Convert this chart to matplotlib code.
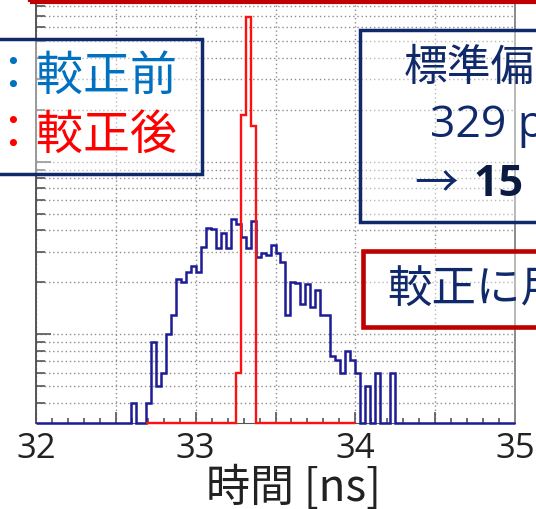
import numpy as np
import matplotlib
matplotlib.use("Agg")
import matplotlib.pyplot as plt
from matplotlib.patches import Rectangle
from matplotlib.ticker import MultipleLocator, LogLocator, FuncFormatter

plt.rcParams['font.family'] = ['Noto Sans CJK JP', 'DejaVu Sans']

W, H = 536, 509

# 96 bins of 1/32 ns between 32 and 35 ns
bin_edges = 32 + np.arange(97) / 32

# before calibration: first filled bin and the bin contents
blue_first_bin = 19
blue_counts = [4, 0, 0, 4, 9, 5, 6, 10, 13, 21,
               20, 23, 25, 23, 32, 41.5, 40.8, 31.5, 38.5, 31.8,
               46.6, 43.4, 36.8, 31.8, 45.3, 28.2, 29.7, 28.8, 32.9, 29.5,
               26.3, 12.9, 20.2, 19.8, 15.0, 19.5, 14.3, 18.0, 13.0, 12.9,
               7.5, 7.1, 6.0, 8.0, 7.1, 6.0, 0, 5.0, 0, 6.0,
               0, 0, 6.0]

# after calibration
red_first_bin = 22
red_counts = [0] * 18 + [6.0, 186, 687, 160] + [0] * 20

x_label = "時間 [ns]"
legend_lines = ["：較正前", "：較正後"]
sigma_lines = ["標準偏差", "329 ps"]
sigma_after = "15 ps"
note_text = "較正に用いた"

ymin, ymax = 3.05, 912

navy = '#10296a'
dark_red = '#c00000'
latin = ['Open Sans', 'DejaVu Sans']


def fx(x):
    return x / W


def fy(y):
    return 1 - y / H


fig = plt.figure(figsize=(W / 100, H / 100), dpi=100)
ax = fig.add_axes([fx(36), 85.7 / H, 479 / W, 427.3 / H])

ax.set_yscale('log')
ax.set_xlim(32, 35)
ax.set_ylim(ymin, ymax)

blue_full = np.zeros(96)
blue_full[blue_first_bin:blue_first_bin + len(blue_counts)] = blue_counts
blue_plot = np.where(blue_full > 0, blue_full, ymin)
ax.stairs(blue_plot, bin_edges, baseline=ymin, color='#1c1c96', lw=1.8,
          clip_on=False, zorder=3)

red_arr = np.array(red_counts, dtype=float)
red_plot = np.where(red_arr > 0, red_arr, ymin)
red_edges = bin_edges[red_first_bin:red_first_bin + len(red_counts) + 1]
ax.stairs(red_plot, red_edges, baseline=ymin, color='#ff1010', lw=1.7,
          clip_on=False, zorder=4)

# ticks and grid in the ROOT look
ax.xaxis.set_major_locator(MultipleLocator(0.5))
ax.xaxis.set_minor_locator(MultipleLocator(0.1))
ax.xaxis.set_major_formatter(FuncFormatter(
    lambda v, p: f"{v:.0f}" if abs(v - round(v)) < 1e-6 else ""))
ax.yaxis.set_major_locator(LogLocator(base=10))
ax.yaxis.set_minor_locator(LogLocator(base=10, subs=np.arange(2, 10)))
ax.tick_params(axis='y', which='both', labelleft=False, direction='in',
               color='#555555', width=1.2)
ax.tick_params(axis='y', which='major', length=10.8)
ax.tick_params(axis='y', which='minor', length=6.3)
ax.tick_params(axis='x', which='both', direction='in', color='#555555', width=1.2)
ax.tick_params(axis='x', which='major', length=8, pad=6, labelsize=25,
               labelcolor='#222222')
ax.tick_params(axis='x', which='minor', length=3.6)
for lab in ax.get_xticklabels():
    lab.set_family(latin)

ax.grid(True, axis='y', which='both', ls=(0, (1, 2)), color='#8e8e8e', lw=1)
ax.grid(True, axis='x', which='major', ls=(0, (1, 2)), color='#8e8e8e', lw=1)

ax.spines['left'].set_color('#555555')
ax.spines['left'].set_linewidth(1.4)
ax.spines['right'].set_color('#8a8a8a')
ax.spines['right'].set_linewidth(1.4)
ax.spines['bottom'].set_color('#555555')
ax.spines['top'].set_visible(False)


def box(x0, y0, x1, y1, color, lw, alpha=0.4, fill=True):
    rect = Rectangle((fx(x0), fy(y1)), (x1 - x0) / W, (y1 - y0) / H,
                     transform=fig.transFigure, facecolor=(1, 1, 1, alpha),
                     fill=fill, edgecolor=color, lw=lw, zorder=5)
    fig.add_artist(rect)


box(29.5, -60, 600, 1.5, dark_red, 3.0, fill=False)
box(-20, 39, 202, 173.5, navy, 2.5)
box(360, 29.5, 600, 222, navy, 2.5)
box(363.5, 250.5, 600, 327, dark_red, 3.3)

fig.text(fx(-10.5), fy(77), legend_lines[0], color='#0070c0', fontsize=33.8,
         va='center', ha='left', zorder=6)
fig.text(fx(-10.5), fy(136), legend_lines[1], color='#ff0000', fontsize=33.8,
         va='center', ha='left', zorder=6)

fig.text(fx(404), fy(68), sigma_lines[0], color=navy, fontsize=31.5,
         va='center', ha='left', zorder=6)
fig.text(fx(430), fy(126), sigma_lines[1], color=navy, fontsize=32,
         family=latin, va='center', ha='left', zorder=6)
fig.text(fx(414), fy(184), "→", color=navy, fontsize=31.5,
         va='center', ha='left', zorder=6)
fig.text(fx(474), fy(184), sigma_after, color='#0b1a40', fontsize=31,
         family=latin, fontweight='bold', va='center', ha='left', zorder=6)

fig.text(fx(387), fy(289), note_text, color=navy, fontsize=32,
         va='center', ha='left', zorder=6)

fig.text(fx(293), fy(488), x_label, color='#222222', fontsize=31.7,
         va='center', ha='center', zorder=6)

fig.savefig("out.png", dpi=100)
